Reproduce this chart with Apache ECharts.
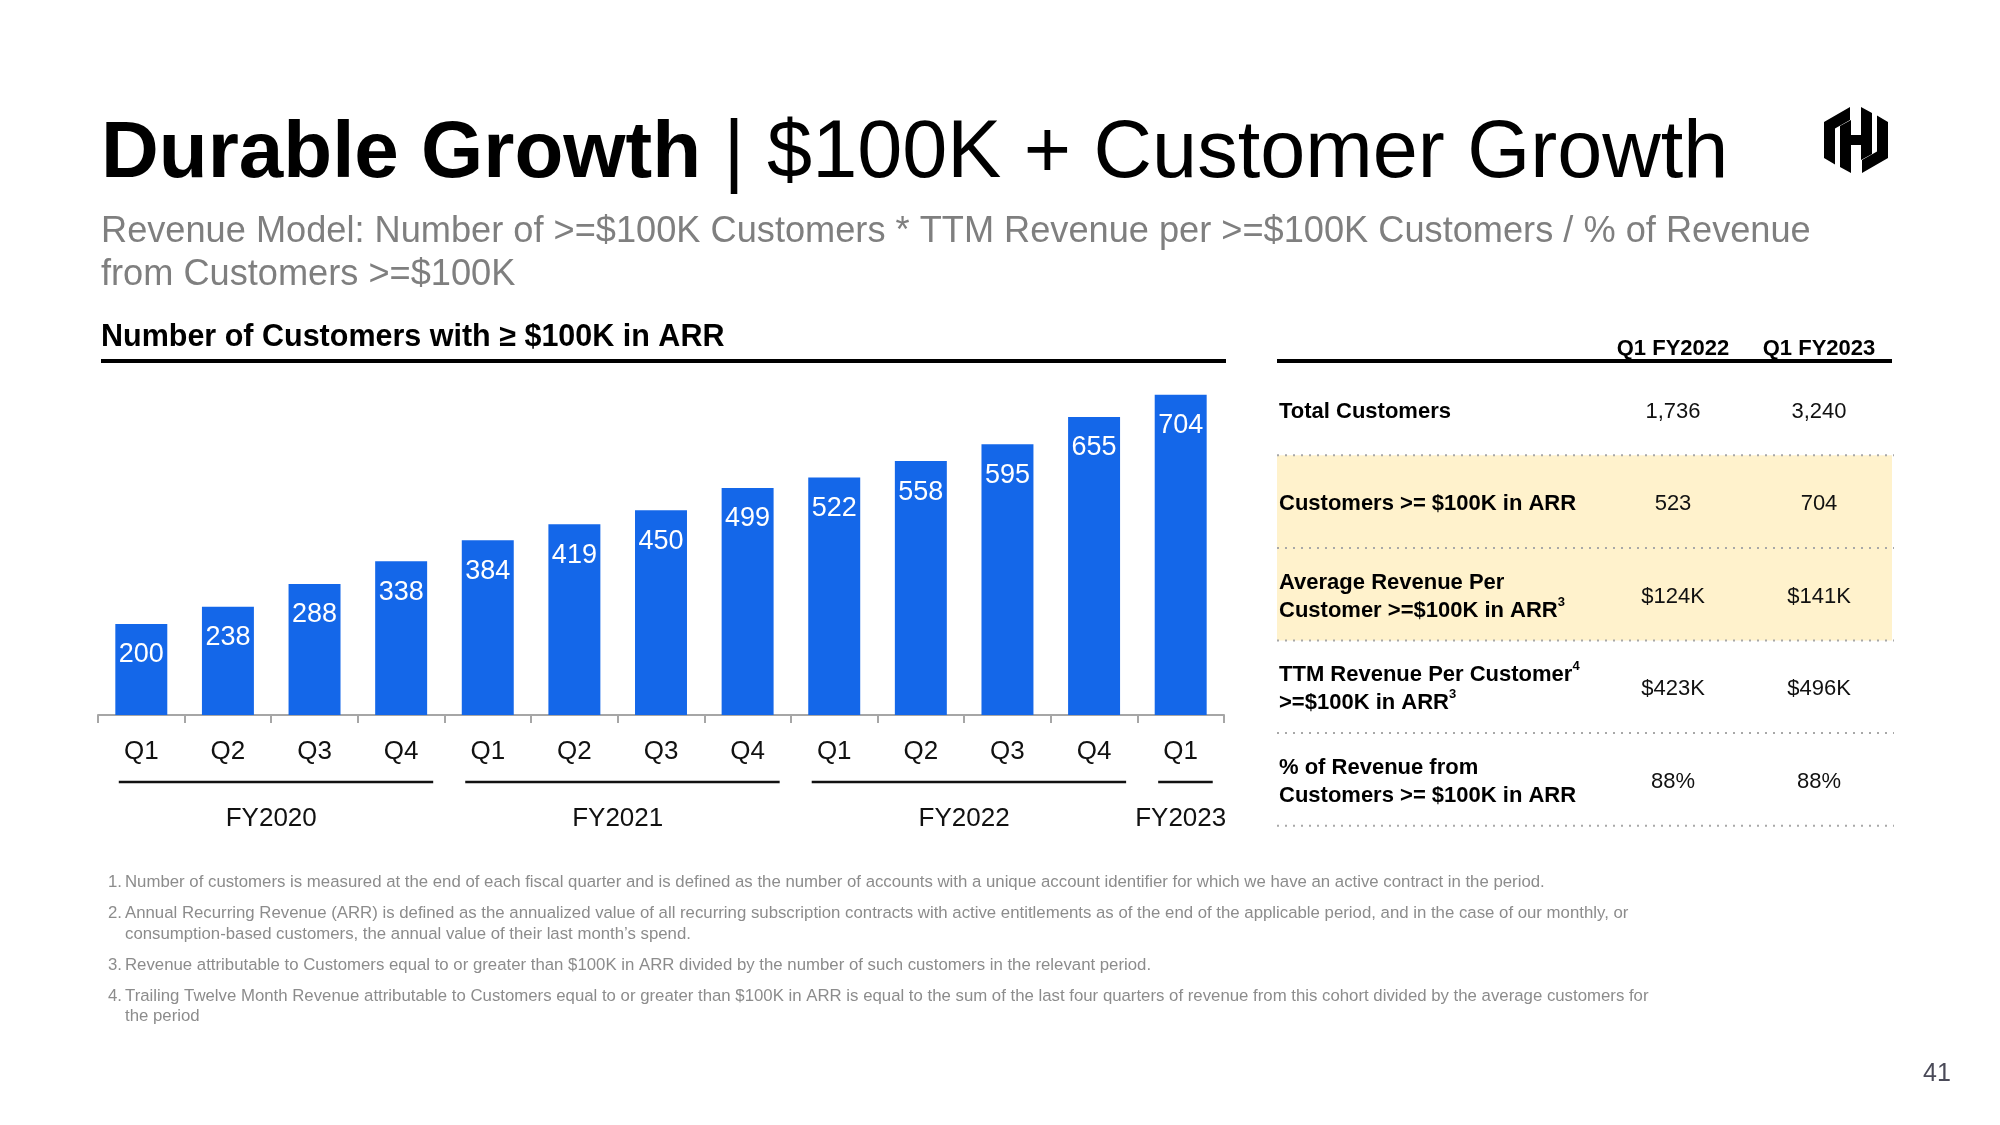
<!DOCTYPE html>
<html><head><meta charset="utf-8">
<script src="https://cdn.jsdelivr.net/npm/echarts@6/dist/echarts.min.js"></script>
<style>html,body{margin:0;padding:0;background:#fff}#c{width:2000px;height:1125px}</style>
</head><body><div id="c"></div><script>
// ---------- data ----------
const quarters = ['Q1','Q2','Q3','Q4','Q1','Q2','Q3','Q4','Q1','Q2','Q3','Q4','Q1'];
const customers100k = [200,238,288,338,384,419,450,499,522,558,595,655,704];
const fiscalYears = ['FY2020','FY2021','FY2022','FY2023'];
const fyFirstQuarter = [0,4,8,12];
const fyLastQuarter = [3,7,11,12];

const tableColumns = ['Q1 FY2022','Q1 FY2023'];
const tableRowLabels = [
  ['Total Customers'],
  ['Customers >= $100K in ARR'],
  ['Average Revenue Per','Customer >=$100K in ARR{sup|3}'],
  ['TTM Revenue Per Customer{sup|4}','>=$100K in ARR{sup|3}'],
  ['% of Revenue from','Customers >= $100K in ARR']
];
const tableQ1FY2022 = ['1,736','523','$124K','$423K','88%'];
const tableQ1FY2023 = ['3,240','704','$141K','$496K','88%'];
const highlightedRows = [1,2];

const footnotes = [
  ['Number of customers is measured at the end of each fiscal quarter and is defined as the number of accounts with a unique account identifier for which we have an active contract in the period.'],
  ['Annual Recurring Revenue (ARR) is defined as the annualized value of all recurring subscription contracts with active entitlements as of the end of the applicable period, and in the case of our monthly, or',
   'consumption-based customers, the annual value of their last month\u2019s spend.'],
  ['Revenue attributable to Customers equal to or greater than $100K in ARR divided by the number of such customers in the relevant period.'],
  ['Trailing Twelve Month Revenue attributable to Customers equal to or greater than $100K in ARR is equal to the sum of the last four quarters of revenue from this cohort divided by the average customers for',
   'the period']
];

const titleBold = 'Durable Growth';
const titleRegular = '$100K + Customer Growth';
const subtitleLines = ['Revenue Model: Number of >=$100K Customers * TTM Revenue per >=$100K Customers / % of Revenue','from Customers >=$100K'];
const chartTitle = 'Number of Customers with \u2265 $100K in ARR';
const pageNumber = '41';

// ---------- styling / layout ----------
const FONT = '"Liberation Sans", Arial, Helvetica, sans-serif';
const BLUE = '#1467E9';
const chart = echarts.init(document.getElementById('c'), null, {renderer:'canvas', width:2000, height:1125});

const g = [];
function txt(x, y, text, size, opts) {
  opts = opts || {};
  g.push({
    type:'text', z: 10,
    style: Object.assign({
      x: x, y: y, text: text,
      font: (opts.bold ? 'bold ' : '') + size + 'px ' + FONT,
      fill: opts.color || '#111',
      textAlign: opts.align || 'left', align: opts.align || 'left',
      textVerticalAlign: 'middle', verticalAlign: 'middle'
    }, opts.extra || {})
  });
}
function hline(x1, x2, y, w, color, dash) {
  g.push({type:'line', z: 5, shape:{x1:x1, y1:y, x2:x2, y2:y},
    style:{stroke:color, lineWidth:w, lineDash: dash || null}});
}

// Title
txt(101, 155, '{b|' + titleBold + '} | ' + titleRegular, 81, {color:'#000', extra:{
  rich:{ b:{ font:'bold 80px ' + FONT, fill:'#000', color:'#000' } }
}});
// Subtitle
subtitleLines.forEach((l, i) => txt(101, 232 + i * 43, l, 36.2, {color:'#7f7f7f'}));
// chart title
txt(101, 338, chartTitle, 30.5, {bold:true, color:'#000'});
hline(101, 1226, 361, 4, '#000');
// table header
hline(1277, 1892, 361, 4, '#000');
const colX = [1673, 1819];
tableColumns.forEach((c, i) => txt(colX[i], 349, c, 22, {bold:true, color:'#000', align:'center'}));
// table rows
const rowC = i => 411.5 + 92.6 * i;
const divY = i => 409 + 92.6 * i + 46.3;
g.push({type:'rect', z: 1, shape:{x:1277, y:divY(highlightedRows[0]-1), width:615,
  height: divY(highlightedRows[highlightedRows.length-1]) - divY(highlightedRows[0]-1)},
  style:{fill:'#FFF2CC'}});
tableRowLabels.forEach((lines, i) => {
  const c = rowC(i);
  lines.forEach((l, j) => {
    const y = lines.length === 1 ? c : c - 14 + 28 * j;
    txt(1279, y, l, 22, {bold:true, color:'#000', extra:{
      lineHeight: 30,
      rich:{ sup:{ font:'bold 13px ' + FONT, fill:'#000', color:'#000', verticalAlign:'top', lineHeight: 12 } }
    }});
  });
  txt(colX[0], c, tableQ1FY2022[i], 22, {align:'center', color:'#111'});
  txt(colX[1], c, tableQ1FY2023[i], 22, {align:'center', color:'#111'});
  hline(1277, 1894, divY(i), 2, '#a8a8a8', [2, 6]);
});
// footnotes
let fy = 882.5;
footnotes.forEach((lines, i) => {
  txt(108, fy, (i + 1) + '.', 16.8, {color:'#8c8c8c'});
  lines.forEach((l, j) => { txt(125, fy + j * 20.5, l, 16.8, {color:'#8c8c8c'}); });
  fy += (lines.length - 1) * 20.5 + 31;
});
// page number
txt(1937, 1074, pageNumber, 25, {color:'#4a4a58', align:'center'});
// logo (decorative)
const LX = 1824, LY = 107;
const logoPolys = [
  [[26,0],[0,15],[0,51],[11,57.5],[11,21.5],[26,13]],
  [[38,66],[64,51],[64,15],[53,8.5],[53,44.5],[38,53]],
  [[16,19],[27,13],[27,28],[37,28],[37,0],[48,6],[48,47],[37,53],[37,38],[27,38],[27,66],[16,60]]
];
logoPolys.forEach(p => g.push({type:'polygon', z: 5,
  shape:{points: p.map(q => [LX + q[0], LY + q[1]])}, style:{fill:'#000'}}));

// ---------- chart ----------
chart.setOption({
  animation:false,
  backgroundColor:'#fff',
  grid:{left:98, right:776, top:351, bottom:410, outerBoundsMode:'none', containLabel:false},
  xAxis:{
    type:'category', data:quarters,
    axisLine:{show:true, lineStyle:{color:'#a6a6a6', width:2}},
    axisTick:{show:true, length:8, interval:0, lineStyle:{color:'#a6a6a6', width:2}},
    axisLabel:{interval:0, margin:23.5, fontSize:26, fontFamily:FONT, color:'#111'},
    splitLine:{show:false}
  },
  yAxis:{type:'value', min:0, max:800, show:false, splitLine:{show:false}},
  series:[
    {
      type:'bar', data:customers100k, barWidth:'60%',
      itemStyle:{color:BLUE},
      label:{show:true, position:'insideTop', distance:17.5, color:'#fff',
        fontSize:27, fontFamily:FONT},
      silent:true
    },
    {
      type:'custom', clip:false, silent:true,
      encode:{x:[0,1], y:2},
      data: fiscalYears.map((n, i) => ({name:n, value:[fyFirstQuarter[i], fyLastQuarter[i], 0]})),
      renderItem: function (params, api) {
        const s = api.coord([api.value(0), 0]);
        const e = api.coord([api.value(1), 0]);
        const bw = api.size([1, 0])[0];
        const name = fiscalYears[params.dataIndex];
        return {type:'group', children:[
          {type:'line', shape:{x1:s[0] - 0.26 * bw, y1:s[1] + 67, x2:e[0] + 0.37 * bw, y2:s[1] + 67},
            style:{stroke:'#111', lineWidth:2.5}},
          {type:'text', style:{text:name, x:(s[0] + e[0]) / 2, y:s[1] + 103.5,
            font:'26px ' + FONT, fill:'#111', align:'center', verticalAlign:'middle',
            textAlign:'center', textVerticalAlign:'middle'}}
        ]};
      }
    }
  ],
  graphic: g
});
</script></body></html>
